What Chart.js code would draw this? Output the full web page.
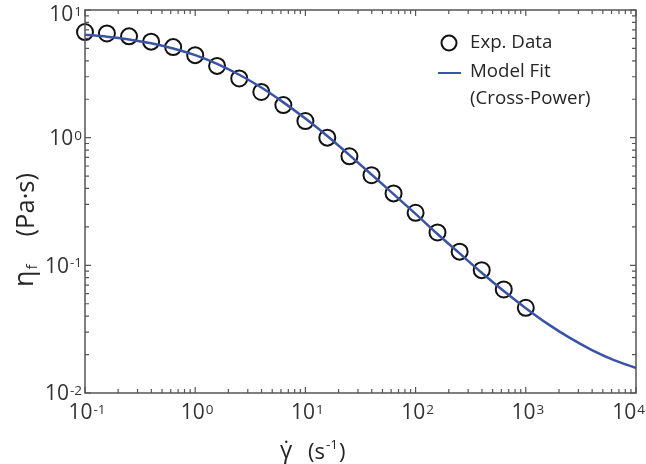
<!DOCTYPE html>
<html>
<head>
<meta charset="utf-8">
<script src="https://cdn.jsdelivr.net/npm/chart.js@4.4.1/dist/chart.umd.min.js"></script>
<style>
html,body{margin:0;padding:0;background:#fff;}
#wrap{width:646px;height:464px;}
</style>
</head>
<body>
<div id="wrap"><canvas id="c" width="646" height="464"></canvas></div>
<script>
// ---- data ----
const shearRates = [0.1, 0.158, 0.251, 0.398, 0.631, 1, 1.58, 2.51, 3.98, 6.31, 10, 15.8, 25.1, 39.8, 63.1, 100, 158, 251, 398, 631, 1000];
const expViscosity = [6.72, 6.55, 6.22, 5.65, 5.12, 4.43, 3.65, 2.91, 2.28, 1.8, 1.35, 1.0, 0.715, 0.508, 0.366, 0.258, 0.181, 0.128, 0.0917, 0.0647, 0.0465];
const fitShearRates = [0.1, 0.158, 0.251, 0.398, 0.631, 1, 1.58, 2.51, 3.98, 6.31, 10, 15.8, 25.1, 39.8, 63.1, 100, 158, 251, 398, 631, 1000, 1580, 2510, 3980, 6310, 10000];
const fitViscosity = [6.40, 6.18, 5.88, 5.49, 5.00, 4.43, 3.79, 3.11, 2.47, 1.89, 1.41, 1.03, 0.73, 0.515, 0.361, 0.253, 0.176, 0.124, 0.0875, 0.0629, 0.0462, 0.0348, 0.0270, 0.0217, 0.0181, 0.0157];
const xTickValues = [0.1, 1, 10, 100, 1000, 10000];
const xTickExps = ["-1", "0", "1", "2", "3", "4"];
const yTickValues = [0.01, 0.1, 1, 10];
const yTickExps = ["-2", "-1", "0", "1"];
const legendLabels = ["Exp. Data", "Model Fit", "(Cross-Power)"];

const FONT = '"Open Sans", "DejaVu Sans", sans-serif';
const AXIS = '#555555';
const BLUE = '#3953a6';
const TXT = '#262626';

function decadeMinors(min, max) {
  const out = [];
  for (let d = Math.floor(Math.log10(min)); d < Math.round(Math.log10(max)); d++) {
    for (let k = 2; k <= 9; k++) out.push(k * Math.pow(10, d));
  }
  return out;
}

// "10" with superscript exponent; cy = vertical middle of the "10"
function drawPow(ctx, exp, x, cy, align, base) {
  const es = 13.5;
  ctx.font = base + 'px ' + FONT;
  const wb = ctx.measureText('10').width;
  ctx.font = es + 'px ' + FONT;
  const we = ctx.measureText(exp).width;
  const tot = wb + we + 1;
  let x0 = x;
  if (align === 'right') x0 = x - tot;
  else if (align === 'center') x0 = x - tot / 2;
  if (x0 + tot > 645) x0 = 645 - tot;
  const dh = 0.714 * base;
  if (cy - dh / 2 < 6.5) cy = 6.5 + dh / 2;
  ctx.textAlign = 'left';
  ctx.textBaseline = 'alphabetic';
  ctx.font = base + 'px ' + FONT;
  ctx.fillText('10', x0, cy + dh / 2);
  ctx.font = es + 'px ' + FONT;
  ctx.fillText(exp, x0 + wb + 1, cy - dh / 2 + 0.714 * es);
}

const decor = {
  id: 'decor',
  afterDatasetsDraw(chart) {
    const ctx = chart.ctx;
    const a = chart.chartArea;
    const xs = chart.scales.x, ys = chart.scales.y;
    ctx.save();
    // frame
    ctx.strokeStyle = AXIS;
    ctx.lineWidth = 1.5;
    ctx.strokeRect(a.left, a.top, a.right - a.left, a.bottom - a.top);
    // ticks
    const MAJ = 6, MIN = 4;
    ctx.lineWidth = 1.2;
    ctx.beginPath();
    xTickValues.forEach(v => {
      const p = xs.getPixelForValue(v);
      ctx.moveTo(p, a.bottom); ctx.lineTo(p, a.bottom - MAJ);
      ctx.moveTo(p, a.top); ctx.lineTo(p, a.top + MAJ);
    });
    decadeMinors(0.1, 10000).forEach(v => {
      const p = xs.getPixelForValue(v);
      ctx.moveTo(p, a.bottom); ctx.lineTo(p, a.bottom - MIN);
      ctx.moveTo(p, a.top); ctx.lineTo(p, a.top + MIN);
    });
    yTickValues.forEach(v => {
      const p = ys.getPixelForValue(v);
      ctx.moveTo(a.left, p); ctx.lineTo(a.left + MAJ, p);
      ctx.moveTo(a.right, p); ctx.lineTo(a.right - MAJ, p);
    });
    decadeMinors(0.01, 10).forEach(v => {
      const p = ys.getPixelForValue(v);
      ctx.moveTo(a.left, p); ctx.lineTo(a.left + MIN, p);
      ctx.moveTo(a.right, p); ctx.lineTo(a.right - MIN, p);
    });
    ctx.stroke();

    // tick labels
    ctx.fillStyle = '#333333';
    xTickValues.forEach((v, i) => {
      drawPow(ctx, xTickExps[i], xs.getPixelForValue(v) + 2, a.bottom + 19, 'center', 21);
    });
    yTickValues.forEach((v, i) => {
      drawPow(ctx, yTickExps[i], a.left - 3, ys.getPixelForValue(v), 'right', 21);
    });

    // axis titles
    ctx.fillStyle = TXT;
    ctx.textBaseline = 'alphabetic';
    ctx.textAlign = 'left';
    // x title
    let y = 459;
    ctx.font = '24px ' + FONT;
    ctx.fillText('\u03B3\u0307', 280, y - 1);
    let x = 308;
    ctx.font = '22px ' + FONT;
    ctx.fillText('(s', x, y);
    x += ctx.measureText('(s').width + 1;
    ctx.font = '13.5px ' + FONT;
    ctx.fillText('-1', x, y - 10);
    x += ctx.measureText('-1').width + 1;
    ctx.font = '22px ' + FONT;
    ctx.fillText(')', x, y);

    // y title (rotated, runs from y=287 up to y=173)
    ctx.save();
    ctx.translate(34, 287);
    ctx.rotate(-Math.PI / 2);
    ctx.font = '27px ' + FONT;
    ctx.fillText('\u03B7', 0, -1);
    let w = ctx.measureText('\u03B7').width;
    ctx.font = '15px ' + FONT;
    ctx.fillText('f', w + 1, 3);
    ctx.font = '25.5px ' + FONT;
    const wp = ctx.measureText('(Pa\u00B7s)').width;
    ctx.fillText('(Pa\u00B7s)', (287 - 173) - wp, 0);
    ctx.restore();

    // legend
    ctx.strokeStyle = '#111111';
    ctx.lineWidth = 2;
    ctx.beginPath();
    ctx.arc(449, 43, 7.5, 0, Math.PI * 2);
    ctx.stroke();
    ctx.strokeStyle = BLUE;
    ctx.lineWidth = 2;
    ctx.beginPath();
    ctx.moveTo(438, 73); ctx.lineTo(461, 73);
    ctx.stroke();
    ctx.fillStyle = TXT;
    ctx.font = '18.7px ' + FONT;
    ctx.textAlign = 'left';
    ctx.textBaseline = 'middle';
    ctx.fillText(legendLabels[0], 470, 43);
    ctx.fillText(legendLabels[1], 470, 72);
    ctx.fillText(legendLabels[2], 470, 99);
    ctx.restore();
  }
};

new Chart(document.getElementById('c'), {
  type: 'scatter',
  data: {
    datasets: [
      {
        label: 'Model Fit (Cross-Power)',
        data: fitShearRates.map((v, i) => ({x: v, y: fitViscosity[i]})),
        showLine: true,
        borderColor: BLUE,
        borderWidth: 2.5,
        pointRadius: 0,
        cubicInterpolationMode: 'monotone',
        order: 0,
        clip: false
      },
      {
        label: 'Exp. Data',
        data: shearRates.map((v, i) => ({x: v, y: expViscosity[i]})),
        showLine: false,
        pointStyle: 'circle',
        pointRadius: 8,
        pointBorderWidth: 2,
        borderColor: '#111111',
        backgroundColor: 'rgba(0,0,0,0)',
        order: 1,
        clip: false
      }
    ]
  },
  options: {
    responsive: false,
    animation: false,
    devicePixelRatio: 1,
    layout: {padding: {left: 85, right: 9, top: 10, bottom: 71}},
    plugins: {legend: {display: false}, tooltip: {enabled: false}},
    scales: {
      x: {type: 'logarithmic', min: 0.1, max: 10000,
          ticks: {display: false}, grid: {display: false, drawTicks: false}, border: {display: false}},
      y: {type: 'logarithmic', min: 0.01, max: 10,
          ticks: {display: false}, grid: {display: false, drawTicks: false}, border: {display: false}}
    }
  },
  plugins: [decor]
});
</script>
</body>
</html>
